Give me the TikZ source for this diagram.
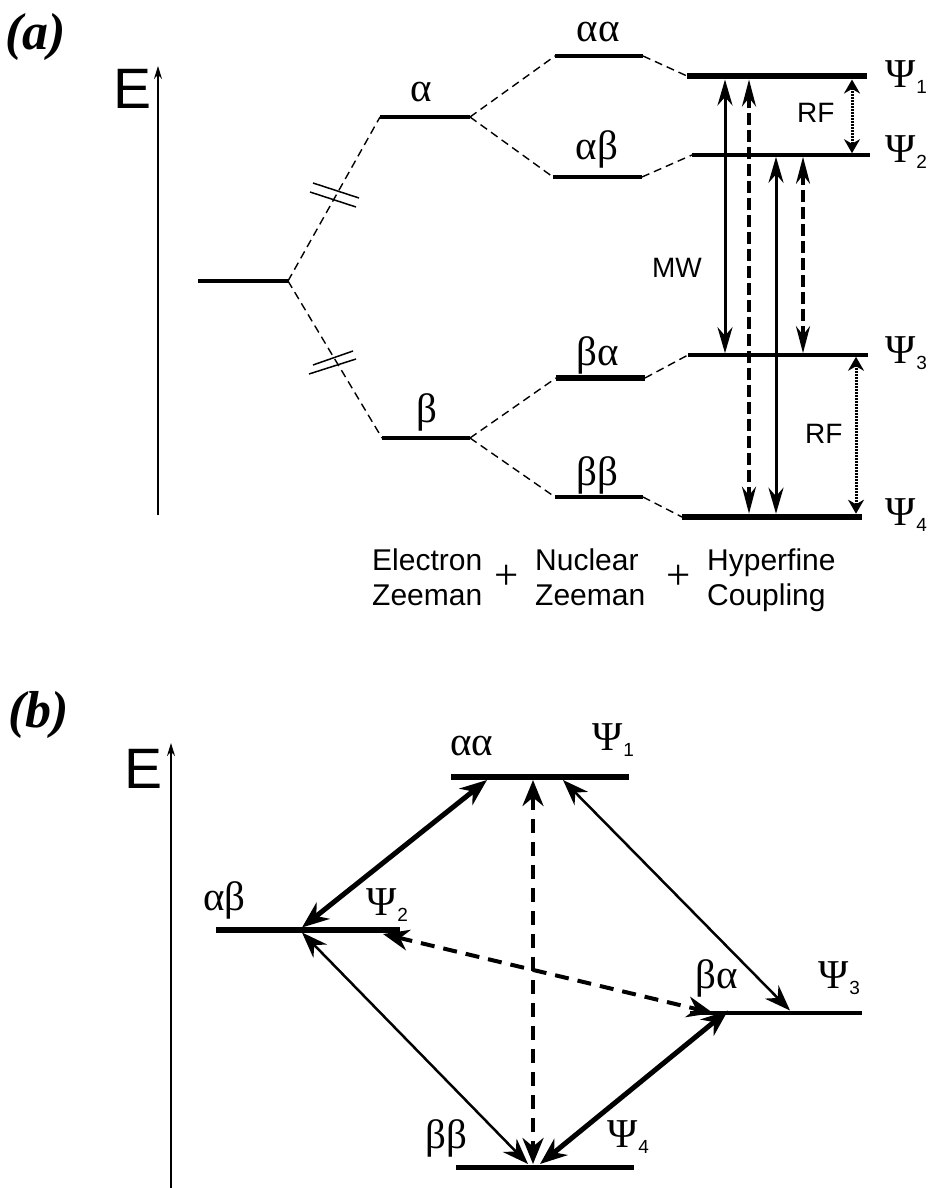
\documentclass[tikz,border=0pt]{standalone}
\usepackage{fontspec}
\setmainfont{Liberation Serif}
\newfontfamily\arialf{Liberation Sans}
\usetikzlibrary{arrows.meta}
\newcommand{\Psil}[1]{Ψ\kern1pt\raisebox{-6pt}{\arialf\fontsize{19}{19}\selectfont #1}}
\begin{document}
\begin{tikzpicture}[x=1pt,y=-1pt,
  gr/.style={inner sep=0pt, font=\fontsize{41}{48}\selectfont, anchor=base},
  grw/.style={inner sep=0pt, font=\fontsize{41}{48}\selectfont, anchor=base west},
  sanslbl/.style={inner sep=0pt, font=\arialf\fontsize{30}{36}\selectfont, anchor=base west},
  plus/.style={inner sep=0pt, font=\fontsize{43}{46}\selectfont},
  rflbl/.style={inner sep=0pt, font=\arialf\fontsize{28}{34}\selectfont},
  elbl/.style={inner sep=0pt, font=\arialf\fontsize{57}{60}\selectfont},
  panlbl/.style={inner sep=0pt, font=\bfseries\itshape\fontsize{52}{56}\selectfont},
  axis/.style={line width=1.5pt, -{Stealth[length=13pt,width=8pt]}},
  lvl/.style={line width=4pt, line cap=butt},
  conn/.style={line width=1.4pt, dash pattern=on 8pt off 5pt},
  brk/.style={line width=1.5pt},
  mw/.style={line width=3pt, {Stealth[length=26pt,width=15pt]}-{Stealth[length=26pt,width=15pt]}},
  dsh/.style={line width=3.5pt, dash pattern=on 12pt off 5pt, {Stealth[length=27pt,width=14pt]}-{Stealth[length=27pt,width=14pt]}},
  rf/.style={line width=3pt, dash pattern=on 2pt off 1pt, {Stealth[length=14pt,width=16pt]}-{Stealth[length=14pt,width=16pt]}},
  thk/.style={line width=5pt, {Stealth[length=27pt,width=21pt]}-{Stealth[length=27pt,width=21pt]}},
  thn/.style={line width=2.5pt, {Stealth[length=26pt,width=19pt]}-{Stealth[length=26pt,width=19pt]}},
  bdsh/.style={line width=4pt, dash pattern=on 14pt off 9pt, {Stealth[length=26pt,width=21pt]}-{Stealth[length=26pt,width=21pt]}}
]
\useasboundingbox (0,0) rectangle (928,1188);

%================ Panel (a) ================
\node[panlbl] (pa) at (36,37) {(a)};
\coordinate (Ea0) at (158,515);
\coordinate (Ea1) at (158,66);
\draw[axis] (Ea0) -- (Ea1);
\node[elbl] (Ea) at (133,89) {E};

% level end points
\coordinate (z0L) at (198,281); \coordinate (z0R) at (288,281);
\coordinate (aL) at (380,117);  \coordinate (aR) at (470,117);
\coordinate (bL) at (382,438);  \coordinate (bR) at (470,438);
\coordinate (aaL) at (555,56);  \coordinate (aaR) at (643,56);
\coordinate (abL) at (553,177); \coordinate (abR) at (642,177);
\coordinate (baL) at (556,378); \coordinate (baR) at (645,378);
\coordinate (bbL) at (555,497); \coordinate (bbR) at (643,497);
\coordinate (p1L) at (687,76);  \coordinate (p1R) at (867,76);
\coordinate (p2L) at (692,155); \coordinate (p2R) at (870,155);
\coordinate (p3L) at (688,355); \coordinate (p3R) at (868,355);
\coordinate (p4L) at (682,517); \coordinate (p4R) at (862,517);

% dashed correlation lines
\draw[conn] (z0R) -- (aL);
\draw[conn] (z0R) -- (bL);
\draw[conn] (aR) -- (aaL);
\draw[conn] (aR) -- (abL);
\draw[conn] (bR) -- (baL);
\draw[conn] (bR) -- (bbL);
\draw[conn] (aaR) -- (p1L);
\draw[conn] (abR) -- (p2L);
\draw[conn] (baR) -- (p3L);
\draw[conn] (bbR) -- (p4L);

% break marks
\coordinate (k1a) at (313,183); \coordinate (k1b) at (359,198);
\coordinate (k2a) at (310,192); \coordinate (k2b) at (356,207);
\coordinate (k3a) at (313,365); \coordinate (k3b) at (353,351);
\coordinate (k4a) at (309,374); \coordinate (k4b) at (356,359);
\draw[brk] (k1a) -- (k1b);
\draw[brk] (k2a) -- (k2b);
\draw[brk] (k3a) -- (k3b);
\draw[brk] (k4a) -- (k4b);

% levels
\draw[lvl, line width=4.5pt] (z0L) -- (z0R);
\draw[lvl] (aL) -- (aR);
\draw[lvl, line width=4.5pt] (bL) -- (bR);
\draw[lvl] (aaL) -- (aaR);
\draw[lvl] (abL) -- (abR);
\draw[lvl, line width=6pt] (baL) -- (baR);
\draw[lvl] (bbL) -- (bbR);
\draw[lvl, line width=6.5pt] (p1L) -- (p1R);
\draw[lvl, line width=3.5pt] (p2L) -- (p2R);
\draw[lvl, line width=3.5pt] (p3L) -- (p3R);
\draw[lvl, line width=6.5pt] (p4L) -- (p4R);

% level labels
\node[gr] (la) at (421,102) {α};
\node[gr] (lb) at (427,422) {β};
\node[gr] (laa) at (598,42) {αα};
\node[gr] (lab) at (597,160) {αβ};
\node[gr] (lba) at (598,365) {βα};
\node[gr] (lbb) at (597,485) {ββ};
\node[grw] (lp1) at (885,88) {\Psil{1}};
\node[grw] (lp2) at (885,162) {\Psil{2}};
\node[grw] (lp3) at (885,363) {\Psil{3}};
\node[grw] (lp4) at (885,525) {\Psil{4}};

% transitions
\coordinate (m1t) at (725,79.5);  \coordinate (m1b) at (725,353.2);
\coordinate (d1t) at (749,79.5);  \coordinate (d1b) at (749,513.7);
\coordinate (m2t) at (776,156.8); \coordinate (m2b) at (776,513.7);
\coordinate (d2t) at (803,156.8); \coordinate (d2b) at (803,353.2);
\coordinate (r1t) at (852,79.5);  \coordinate (r1b) at (852,153.2);
\coordinate (r2t) at (856,356.8); \coordinate (r2b) at (856,513.7);
\draw[mw] (m1t) -- (m1b);
\draw[dsh] (d1t) -- (d1b);
\draw[mw] (m2t) -- (m2b);
\draw[dsh] (d2t) -- (d2b);
\draw[rf] (r1t) -- (r1b);
\draw[rf] (r2t) -- (r2b);

\node[rflbl, anchor=base west] (rfa) at (797,123) {RF};
\node[rflbl, anchor=base west] (rfb) at (805,443) {RF};
\node[rflbl, anchor=base east] (mwl) at (702,277) {MW};

% bottom caption
\node[sanslbl] (c1a) at (372,570) {Electron};
\node[sanslbl] (c1b) at (372,605) {Zeeman};
\node[plus] (pl1) at (507,577) {+};
\node[sanslbl] (c2a) at (535,570) {Nuclear};
\node[sanslbl] (c2b) at (535,605) {Zeeman};
\node[plus] (pl2) at (679,577) {+};
\node[sanslbl] (c3a) at (707,570) {Hyperfine};
\node[sanslbl] (c3b) at (707,605) {Coupling};

%================ Panel (b) ================
\node[panlbl] (pb) at (39,715) {(b)};
\coordinate (Eb0) at (171,1188);
\coordinate (Eb1) at (171,743);
\draw[axis] (Eb0) -- (Eb1);
\node[elbl] (Eb) at (144,769) {E};

\coordinate (AAL) at (451,777);  \coordinate (AAR) at (629,777);
\coordinate (ABL) at (216,930);  \coordinate (ABR) at (400,930);
\coordinate (BAL) at (690,1013); \coordinate (BAR) at (862,1013);
\coordinate (BBL) at (456,1167); \coordinate (BBR) at (634,1167);

\draw[lvl, line width=6pt] (AAL) -- (AAR);
\draw[lvl, line width=5.5pt] (ABL) -- (ABR);
\draw[lvl, line width=4.5pt] (BAL) -- (BAR);
\draw[lvl, line width=5pt] (BBL) -- (BBR);

\node[grw] (lAA) at (450,755) {αα};
\node[grw] (lP1) at (592,750) {\Psil{1}};
\node[grw] (lAB) at (203,910) {αβ};
\node[grw] (lP2) at (366,915) {\Psil{2}};
\node[grw] (lBA) at (695,988) {βα};
\node[grw] (lP3) at (818,988) {\Psil{3}};
\node[grw] (lBB) at (425,1148) {ββ};
\node[grw] (lP4) at (607,1147) {\Psil{4}};

\coordinate (t1a) at (487,780);  \coordinate (t1b) at (302,927.5);
\coordinate (vda) at (533,780);  \coordinate (vdb) at (533,1164);
\coordinate (n1a) at (563,780);  \coordinate (n1b) at (790,1010.5);
\coordinate (n2a) at (302,932.5); \coordinate (n2b) at (528,1164);
\coordinate (t2a) at (728,1010.5); \coordinate (t2b) at (540,1164);
\coordinate (hda) at (383,934);  \coordinate (hdb) at (713,1013);

\draw[thn] (n1a) -- (n1b);
\draw[thn] (n2a) -- (n2b);
\draw[bdsh] (vda) -- (vdb);
\draw[bdsh] (hda) -- (hdb);
\draw[thk] (t1a) -- (t1b);
\draw[thk] (t2a) -- (t2b);
\end{tikzpicture}
\end{document}
